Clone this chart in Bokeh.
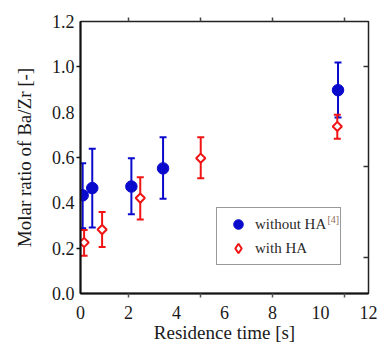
import math
from bokeh.plotting import figure
from bokeh.models import (LinearAxis, FixedTicker, Range1d, Legend, LegendItem,
                          ColumnDataSource)
from bokeh.core.properties import value
from bokeh.embed import file_html
from bokeh.resources import INLINE

# ---- data ----
time_without = [0.09, 0.49, 2.12, 3.44, 10.73]
ratio_without = [0.433, 0.465, 0.472, 0.552, 0.897]
upper_without = [0.575, 0.639, 0.597, 0.689, 1.019]
lower_without = [0.288, 0.291, 0.350, 0.418, 0.776]

time_with = [0.15, 0.90, 2.49, 5.01, 10.70]
ratio_with = [0.225, 0.282, 0.421, 0.597, 0.737]
upper_with = [0.280, 0.360, 0.513, 0.689, 0.789]
lower_with = [0.167, 0.205, 0.326, 0.509, 0.683]

x_tick_values = [0, 2, 4, 6, 8, 10, 12]
y_tick_values = [0.0, 0.2, 0.4, 0.6, 0.8, 1.0, 1.2]
y_tick_labels = ["0.0", "0.2", "0.4", "0.6", "0.8", "1.0", "1.2"]
bottom_marks = [2, 5, 8, 11]
top_marks = [2, 5, 8, 11]
left_marks = [0.2, 0.6, 1.0]
right_marks = [0.16, 0.56, 1.0]

label_without = "without HA"
label_with = "with HA"
label_ref = "[4]"

BLUE = "#0a0acd"
RED = "#f01414"
FONT = "'Liberation Serif'"
TXT = "#1a1a1a"

p = figure(width=379, height=345, x_range=Range1d(0, 12), y_range=Range1d(0, 1.2),
           output_backend="svg", toolbar_location=None,
           x_axis_type=None, y_axis_type=None,
           min_border_left=80, min_border_right=11, min_border_top=21, min_border_bottom=49)
p.outline_line_color = "#222222"
p.outline_line_width = 1.5
p.background_fill_color = "white"
p.border_fill_color = "white"


def tick_only_axis(ticks, tin, tout, color, lw):
    ax = LinearAxis(ticker=FixedTicker(ticks=ticks, minor_ticks=[]))
    ax.major_label_overrides = {t: "" for t in ticks}
    ax.major_label_text_font_size = "1px"
    ax.major_label_standoff = 0
    ax.major_tick_in = tin
    ax.major_tick_out = tout
    ax.major_tick_line_color = color
    ax.major_tick_line_width = lw
    ax.minor_tick_line_color = None
    ax.axis_line_color = None
    return ax


def main_axis(ticks, labels, marks, title, standoff, title_standoff, tick_color):
    # labels at `ticks`; the short outward tick marks sit at `marks` (drawn as minor ticks)
    ax = LinearAxis(ticker=FixedTicker(ticks=ticks, minor_ticks=marks))
    if labels is not None:
        ax.major_label_overrides = {t: l for t, l in zip(ticks, labels)}
    ax.major_tick_in = 0
    ax.major_tick_out = 0
    ax.major_tick_line_color = None
    ax.minor_tick_in = 0
    ax.minor_tick_out = 4
    ax.minor_tick_line_color = tick_color
    ax.minor_tick_line_width = 1.5
    ax.axis_line_color = "#111111"
    ax.axis_line_width = 2
    ax.major_label_text_font = FONT
    ax.major_label_text_font_size = "18px"
    ax.major_label_text_color = TXT
    ax.major_label_standoff = standoff
    ax.axis_label = title
    ax.axis_label_text_font = FONT
    ax.axis_label_text_font_size = "19px"
    ax.axis_label_text_font_style = "normal"
    ax.axis_label_text_color = TXT
    ax.axis_label_standoff = title_standoff
    return ax


p.add_layout(main_axis(x_tick_values, None, bottom_marks, "Residence time [s]", 8, 0, "#555555"), "below")
p.add_layout(main_axis(y_tick_values, y_tick_labels, left_marks, "Molar ratio of Ba/Zr [-]", 2, 14, "#111111"), "left")

# top and right tick marks
p.add_layout(tick_only_axis(top_marks, 0, 4, "#444444", 1.5), "above")
p.add_layout(tick_only_axis(right_marks, 5, 0, "#333333", 1.5), "right")

# ---- data glyphs ----
src_wo = ColumnDataSource(dict(t=time_without, r=ratio_without, up=upper_without, lo=lower_without))
src_w = ColumnDataSource(dict(t=time_with, r=ratio_with, up=upper_with, lo=lower_with))

p.segment(x0="t", y0="lo", x1="t", y1="up", source=src_wo, line_color=BLUE, line_width=2)
p.scatter(x="t", y="up", source=src_wo, marker="dash", size=7, line_color=BLUE, line_width=2)
p.scatter(x="t", y="lo", source=src_wo, marker="dash", size=7, line_color=BLUE, line_width=2)
r_wo = p.scatter(x="t", y="r", source=src_wo, marker="circle", size=11.5,
                 fill_color=BLUE, line_color=BLUE)

p.segment(x0="t", y0="lo", x1="t", y1="up", source=src_w, line_color=RED, line_width=2)
p.scatter(x="t", y="up", source=src_w, marker="dash", size=7, line_color=RED, line_width=2)
p.scatter(x="t", y="lo", source=src_w, marker="dash", size=7, line_color=RED, line_width=2)
r_w = p.scatter(x="t", y="r", source=src_w, marker="square", angle=math.pi / 4, size=6.5,
                fill_color="white", line_color=RED, line_width=2)

# legend-only key for the open diamond (legend keys are drawn unrotated)
r_w_key = p.scatter(x=[float("nan")], y=[float("nan")], marker="diamond", size=10,
                    fill_color="white", line_color=RED, line_width=2)

legend = Legend(items=[LegendItem(label=label_without, renderers=[r_wo]),
                       LegendItem(label=label_with, renderers=[r_w_key])],
                location=(136, 28))
legend.border_line_color = "#333333"
legend.border_line_width = 1
legend.background_fill_alpha = 0
legend.padding = 4
legend.margin = 0
legend.spacing = 0
legend.glyph_width = 34
legend.glyph_height = 24
legend.label_height = 24
legend.label_width = 81
legend.label_standoff = 0
legend.label_text_font = FONT
legend.label_text_font_size = "15px"
legend.label_text_color = "#2a2a2a"
p.add_layout(legend, "center")

# superscript reference marker after "without HA"
ref_src = ColumnDataSource(dict(x=[10.29], y=[0.352], text=[label_ref]))
p.text(x="x", y="y", text="text", source=ref_src, text_font=value(FONT),
       text_font_size="10px", text_color="#8a6a55", text_baseline="top", text_align="left")

open("out.html", "w").write(file_html(p, INLINE))
